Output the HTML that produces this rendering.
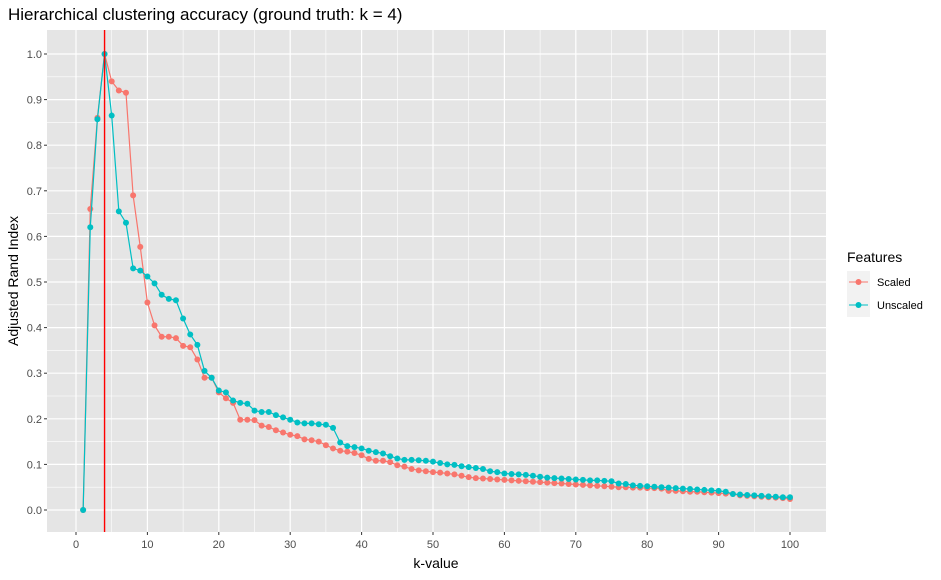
<!DOCTYPE html>
<html><head><meta charset="utf-8"><style>
body{margin:0;background:#fff;font-family:"Liberation Sans",sans-serif}
</style></head><body>
<svg id="c" width="941" height="575" font-family="Liberation Sans, sans-serif">
<text x="8" y="20" font-size="17" fill="#000">Hierarchical clustering accuracy (ground truth: k = 4)</text>
<rect x="47" y="30" width="779" height="502" fill="#e5e5e5"/>
<g id="grid"></g><g id="axes"></g><g id="marks"></g>
<text x="436" y="568" font-size="14" text-anchor="middle">k-value</text>
<text transform="translate(18,281) rotate(-90)" font-size="14" text-anchor="middle">Adjusted Rand Index</text>
<g>
<text x="847" y="262" font-size="14">Features</text>
<rect x="847" y="271" width="23" height="23" fill="#f2f2f2"/>
<rect x="847" y="294" width="23" height="23" fill="#f2f2f2"/>
<g><line x1="849" x2="868" y1="282" y2="282" stroke="#F8766D"/><circle cx="858.5" cy="282" r="3" fill="#F8766D"/><text x="877" y="286" font-size="11">Scaled</text></g>
<g><line x1="849" x2="868" y1="305" y2="305" stroke="#00BFC4"/><circle cx="858.5" cy="305" r="3" fill="#00BFC4"/><text x="877" y="309" font-size="11">Unscaled</text></g>
</g>
</svg>
<script>
const kValues=[];for(let k=1;k<=100;k++)kValues.push(k);
const scaled=[0,.66,.86,1.0,.94,.92,.915,.69,.577,.455,.405,.38,.38,.377,.36,.357,.33,.29,.29,.258,.245,.235,.198,.198,.197,.185,.182,.175,.17,.165,.162,.155,.153,.15,.142,.135,.13,.128,.125,.12,.112,.108,.108,.105,.098,.095,.09,.087,.085,.083,.082,.08,.078,.075,.072,.07,.069,.068,.067,.066,.065,.064,.063,.062,.061,.06,.059,.058,.057,.056,.055,.054,.053,.052,.051,.05,.05,.049,.049,.048,.048,.047,.042,.042,.041,.04,.04,.039,.038,.037,.036,.035,.032,.031,.03,.029,.028,.027,.026,.024];
const unscaled=[0,.62,.857,1.0,.865,.655,.63,.53,.525,.512,.497,.472,.463,.46,.42,.385,.362,.305,.29,.262,.258,.24,.235,.233,.218,.215,.215,.208,.203,.198,.192,.19,.19,.188,.187,.18,.148,.14,.138,.135,.13,.127,.124,.118,.113,.11,.11,.109,.108,.106,.103,.1,.099,.096,.094,.092,.09,.085,.083,.08,.079,.078,.077,.075,.073,.071,.07,.069,.068,.067,.066,.065,.065,.064,.063,.058,.057,.054,.053,.052,.051,.05,.049,.048,.047,.046,.045,.044,.043,.042,.04,.035,.034,.033,.032,.031,.03,.029,.028,.028];
const xTicks=[0,10,20,30,40,50,60,70,80,90,100];
const yTicks=[0,0.1,0.2,0.3,0.4,0.5,0.6,0.7,0.8,0.9,1.0];
const trueK=4;
const X=v=>76+v*7.14, Y=v=>510-v*456;
const NS="http://www.w3.org/2000/svg";
function mk(p,t,a){const e=document.createElementNS(NS,t);for(const k in a)e.setAttribute(k,a[k]);p.appendChild(e);return e;}
const g=document.getElementById('grid'),ax=document.getElementById('axes'),m=document.getElementById('marks');
for(let i=0;i<xTicks.length;i++){
  if(i<xTicks.length-1)mk(g,'line',{x1:X(xTicks[i]+5),x2:X(xTicks[i]+5),y1:30,y2:532,stroke:'#fff','stroke-width':0.6});
  const l=mk(g,'line',{x1:X(xTicks[i]),x2:X(xTicks[i]),y1:30,y2:532,stroke:'#fff','stroke-width':1.2});
  
  
  mk(ax,'line',{x1:X(xTicks[i]),x2:X(xTicks[i]),y1:532,y2:535,stroke:'#333'});
  const t=mk(ax,'text',{x:X(xTicks[i]),y:548,'font-size':11,'text-anchor':'middle',fill:'#4d4d4d'});t.textContent=xTicks[i];
  
  
}
for(let i=0;i<yTicks.length;i++){
  if(i<yTicks.length-1)mk(g,'line',{x1:47,x2:826,y1:Y(yTicks[i]+0.05),y2:Y(yTicks[i]+0.05),stroke:'#fff','stroke-width':0.6});
  const l=mk(g,'line',{x1:47,x2:826,y1:Y(yTicks[i]),y2:Y(yTicks[i]),stroke:'#fff','stroke-width':1.2});
  
  
  mk(ax,'line',{x1:44,x2:47,y1:Y(yTicks[i]),y2:Y(yTicks[i]),stroke:'#333'});
  const t=mk(ax,'text',{x:42,y:Y(yTicks[i])+4,'font-size':11,'text-anchor':'end',fill:'#4d4d4d'});t.textContent=yTicks[i].toFixed(1);
  
  
}
function series(vals,col,name){
  const p=mk(m,'polyline',{points:vals.map((v,i)=>X(kValues[i])+','+Y(v)).join(' '),fill:'none',stroke:col,'stroke-width':1.2});
  
  
  vals.forEach((v,i)=>{const c=mk(m,'circle',{cx:X(kValues[i]),cy:Y(v),r:3,fill:col});
    
    });
}
series(scaled,'#F8766D','scaled');
series(unscaled,'#00BFC4','unscaled');
const v=mk(m,'line',{x1:X(trueK),x2:X(trueK),y1:30,y2:532,stroke:'#ff0000','stroke-width':1.4});


</script>
</body></html>
